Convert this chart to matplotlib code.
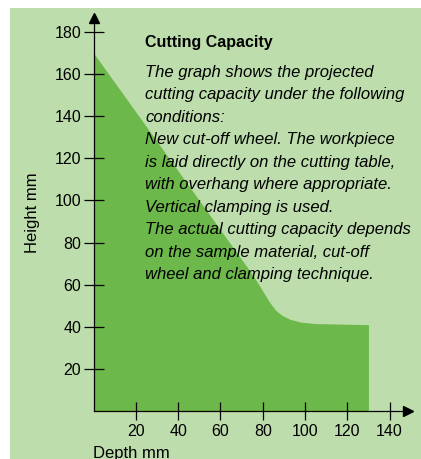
import matplotlib
matplotlib.use('Agg')
import matplotlib.pyplot as plt
from matplotlib.patches import Rectangle

# cutting capacity outline (depth mm, height mm)
depth = [0, 20, 40, 60, 70, 76, 80, 83, 86, 89, 93, 98, 105, 130]
height = [170, 142, 114, 86, 72, 63.5, 57, 52, 48, 45.5, 43.5, 42.2, 41.5, 41]

xticks = [20, 40, 60, 80, 100, 120, 140]
yticks = [20, 40, 60, 80, 100, 120, 140, 160, 180]

title = 'Cutting Capacity'
body = ['The graph shows the projected',
        'cutting capacity under the following',
        'conditions:',
        'New cut-off wheel. The workpiece',
        'is laid directly on the cutting table,',
        'with overhang where appropriate.',
        'Vertical clamping is used.',
        'The actual cutting capacity depends',
        'on the sample material, cut-off',
        'wheel and clamping technique.']

W, H = 421, 459
light = '#bddeac'
dark = '#6cb84a'
plt.rcParams['font.family'] = ['Liberation Sans', 'DejaVu Sans']

def fx(x):
    return x / W

def fy(y):
    return 1 - y / H

fig = plt.figure(figsize=(W / 100, H / 100), dpi=100, facecolor='white')
fig.patches.append(Rectangle((fx(9.5), 0), 1 - fx(9.5), fy(8), transform=fig.transFigure,
                             facecolor=light, edgecolor='none', zorder=-10))

ax = fig.add_axes([fx(93.5), fy(411), fx(314.5), 393 / H])
ax.patch.set_visible(False)
ax.fill_between(depth, height, 0, color=dark, linewidth=0)
ax.set_xlim(0, 148.7)
ax.set_ylim(0, 186.6)
for s in ['top', 'right']:
    ax.spines[s].set_visible(False)
for s in ['left', 'bottom']:
    ax.spines[s].set_linewidth(0.9)
ax.plot(1, 0, '>k', ms=7.5, transform=ax.get_yaxis_transform(), clip_on=False)
ax.plot(0, 1, '^k', ms=7.5, transform=ax.get_xaxis_transform(), clip_on=False)

ax.set_xticks(xticks)
ax.set_yticks(yticks)
ax.tick_params(axis='x', direction='inout', length=13, width=0.9, pad=2.5, labelsize=11.5)
ax.tick_params(axis='y', direction='inout', length=13.7, width=0.9, pad=2, labelsize=11.5)

fig.text(fx(33), fy(213), 'Height mm', rotation=90, ha='center', va='center', fontsize=12)
fig.text(fx(92.7), fy(458), 'Depth mm', ha='left', va='baseline', fontsize=12)

fig.text(fx(145), fy(47.3), title, ha='left', va='baseline', fontsize=11.5,
         fontweight='bold')
for i, line in enumerate(body):
    fig.text(fx(145), fy(76.7 + 22.5 * i), line, ha='left', va='baseline', fontsize=12,
             style='italic')

fig.savefig('out.png', dpi=100, facecolor='white')
